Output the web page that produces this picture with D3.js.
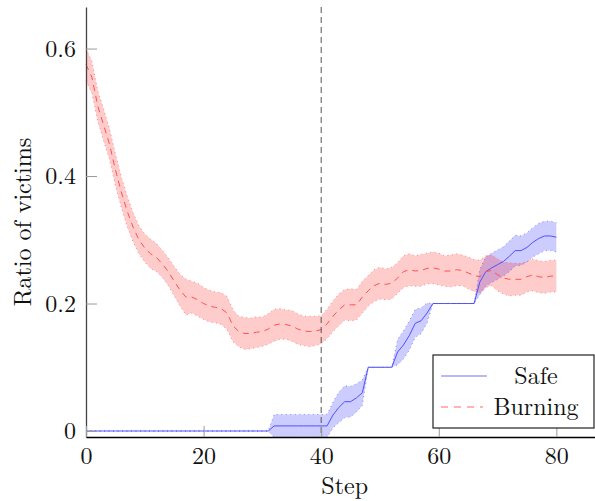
<!DOCTYPE html>
<html>
<head>
<meta charset="utf-8">
<script src="https://cdn.jsdelivr.net/npm/d3@7"></script>
<style>
  body { margin: 0; background: #fff; }
</style>
</head>
<body>
<script>
// step index 0..80
var steps = d3.range(0, 81);

var safeMean = [
	0, 0, 0, 0, 0, 0, 0, 0, 0, 0,
	0, 0, 0, 0, 0, 0, 0, 0, 0, 0,
	0, 0, 0, 0, 0, 0, 0, 0, 0, 0,
	0, 0, 0.008, 0.008, 0.008, 0.008, 0.008, 0.008, 0.008, 0.008,
	0.008, 0.008, 0.025, 0.037, 0.046, 0.046, 0.052, 0.06, 0.1, 0.1,
	0.1, 0.1, 0.1, 0.124, 0.135, 0.15, 0.169, 0.173, 0.185, 0.2,
	0.2, 0.2, 0.2, 0.2, 0.2, 0.2, 0.2, 0.234, 0.25, 0.256,
	0.261, 0.266, 0.274, 0.283, 0.283, 0.288, 0.296, 0.302, 0.306, 0.306,
	0.304
];
var safeStd = [
	0, 0, 0, 0, 0, 0, 0, 0, 0, 0,
	0, 0, 0, 0, 0, 0, 0, 0, 0, 0,
	0, 0, 0, 0, 0, 0, 0, 0, 0, 0,
	0, 0, 0.018, 0.018, 0.018, 0.018, 0.018, 0.018, 0.018, 0.018,
	0.018, 0.018, 0.02, 0.024, 0.025, 0.024, 0.022, 0.02, 0, 0,
	0, 0, 0, 0.02, 0.022, 0.023, 0.022, 0.02, 0.016, 0,
	0, 0, 0, 0, 0, 0, 0, 0.02, 0.023, 0.023,
	0.023, 0.023, 0.024, 0.024, 0.023, 0.023, 0.023, 0.024, 0.023, 0.023,
	0.023
];
var burningMean = [
	0.575, 0.555, 0.51, 0.48, 0.45, 0.41, 0.375, 0.345, 0.32, 0.3,
	0.287, 0.278, 0.272, 0.262, 0.25, 0.235, 0.221, 0.21, 0.21, 0.206,
	0.2, 0.196, 0.194, 0.192, 0.185, 0.165, 0.156, 0.153, 0.153, 0.155,
	0.156, 0.16, 0.166, 0.168, 0.167, 0.165, 0.16, 0.157, 0.156, 0.157,
	0.159, 0.168, 0.18, 0.19, 0.198, 0.198, 0.198, 0.21, 0.22, 0.228,
	0.232, 0.23, 0.232, 0.24, 0.25, 0.253, 0.251, 0.252, 0.255, 0.256,
	0.254, 0.251, 0.251, 0.253, 0.252, 0.248, 0.244, 0.242, 0.25, 0.252,
	0.245, 0.24, 0.238, 0.238, 0.238, 0.242, 0.245, 0.242, 0.241, 0.243,
	0.243
];
var burningStd = [
	0.025, 0.025, 0.024, 0.025, 0.024, 0.025, 0.024, 0.024, 0.023, 0.022,
	0.022, 0.023, 0.022, 0.021, 0.022, 0.023, 0.025, 0.028, 0.025, 0.026,
	0.025, 0.025, 0.024, 0.025, 0.026, 0.025, 0.024, 0.025, 0.024, 0.024,
	0.023, 0.024, 0.025, 0.024, 0.023, 0.024, 0.024, 0.023, 0.024, 0.023,
	0.022, 0.023, 0.024, 0.025, 0.024, 0.025, 0.024, 0.025, 0.024, 0.025,
	0.025, 0.024, 0.025, 0.024, 0.025, 0.025, 0.024, 0.025, 0.024, 0.025,
	0.025, 0.024, 0.025, 0.025, 0.024, 0.025, 0.025, 0.026, 0.025, 0.024,
	0.025, 0.025, 0.026, 0.025, 0.025, 0.024, 0.025, 0.025, 0.025, 0.025,
	0.025
];

var xTicks = [0, 20, 40, 60, 80];
var yTicks = [0, 0.2, 0.4, 0.6];
var yTickLabels = ["0", "0.2", "0.4", "0.6"];
var legendLabels = ["Safe", "Burning"];
var markerStep = 40;

var width = 595;
var height = 501;
var font = "'Latin Modern Roman', 'Liberation Serif', serif";

var x = d3.scaleLinear().domain([0, 88]).range([86, 603.4]);
var y = d3.scaleLinear().domain([-0.0094, 0.6652]).range([437, 7]);

var svg = d3.select("body").append("svg")
	.attr("width", width)
	.attr("height", height);

var series = [
	{mean: safeMean, std: safeStd, line: "#5050ff", fill: "#0000ff", edge: "#6060ff", dash: null},
	{mean: burningMean, std: burningStd, line: "#ff5050", fill: "#ff0000", edge: "#ff6060", dash: "6,5"}
];

// bands
series.forEach(function(s) {
	var area = d3.area()
		.x(function(d) { return x(d); })
		.y0(function(d, i) { return y(s.mean[i] - s.std[i]); })
		.y1(function(d, i) { return y(s.mean[i] + s.std[i]); });
	svg.append("path")
		.attr("d", area(steps))
		.attr("fill", s.fill)
		.attr("fill-opacity", 0.2);
	[1, -1].forEach(function(sign) {
		var edge = d3.line()
			.x(function(d) { return x(d); })
			.y(function(d, i) { return y(s.mean[i] + sign * s.std[i]); });
		svg.append("path")
			.attr("d", edge(steps))
			.attr("fill", "none")
			.attr("stroke", s.edge)
			.attr("stroke-width", 0.9)
			.attr("stroke-dasharray", "1,3.5")
			.attr("stroke-opacity", 0.8);
	});
});

// mean lines
series.forEach(function(s) {
	var line = d3.line()
		.x(function(d) { return x(d); })
		.y(function(d, i) { return y(s.mean[i]); });
	svg.append("path")
		.attr("d", line(steps))
		.attr("fill", "none")
		.attr("stroke", s.line)
		.attr("stroke-width", 1)
		.attr("stroke-dasharray", s.dash);
});

// vertical marker
svg.append("line")
	.attr("x1", x(markerStep)).attr("x2", x(markerStep))
	.attr("y1", y.range()[1]).attr("y2", y.range()[0])
	.attr("stroke", "#555")
	.attr("stroke-width", 1)
	.attr("stroke-dasharray", "6,4");

// axes
var yAxis = svg.append("g")
	.attr("transform", "translate(" + x(0) + ",0)")
	.call(d3.axisLeft(y)
		.tickValues(yTicks)
		.tickSizeInner(-11)
		.tickSizeOuter(0)
		.tickPadding(10)
		.tickFormat(function(d, i) { return yTickLabels[i]; }));
yAxis.select(".domain").attr("stroke", "#444").attr("stroke-width", 1.3);
yAxis.selectAll(".tick line").attr("stroke", "#999");
yAxis.selectAll(".tick text")
	.style("font-size", "24px")
	.style("font-family", font)
	.attr("fill", "#111");

var xAxis = svg.append("g")
	.attr("transform", "translate(0," + y.range()[0] + ")")
	.call(d3.axisBottom(x)
		.tickValues(xTicks)
		.tickSizeInner(-11)
		.tickSizeOuter(0)
		.tickPadding(10)
		.tickFormat(d3.format("d")));
xAxis.select(".domain").attr("stroke", "#000").attr("stroke-width", 1.3);
xAxis.selectAll(".tick line").attr("stroke", "#999");
xAxis.selectAll(".tick text")
	.style("font-size", "24px")
	.style("font-family", font)
	.attr("fill", "#111");

// axis titles
svg.append("text")
	.attr("x", (x.range()[0] + x.range()[1]) / 2)
	.attr("y", 494)
	.attr("text-anchor", "middle")
	.style("font-size", "24px")
	.style("font-family", font)
	.attr("fill", "#111")
	.text("Step");

svg.append("text")
	.attr("transform", "translate(31," + ((y.range()[0] + y.range()[1]) / 2) + ") rotate(-90)")
	.attr("text-anchor", "middle")
	.style("font-size", "24px")
	.style("font-family", font)
	.attr("fill", "#111")
	.text("Ratio of victims");

// legend
var legend = svg.append("g").attr("transform", "translate(433,355)");
legend.append("rect")
	.attr("width", 161).attr("height", 73)
	.attr("fill", "#fff")
	.attr("stroke", "#222")
	.attr("stroke-width", 1.2);
legend.append("line")
	.attr("x1", 8).attr("x2", 54).attr("y1", 21).attr("y2", 21)
	.attr("stroke", "#a0a0ff").attr("stroke-width", 1.5);
legend.append("line")
	.attr("x1", 8).attr("x2", 50).attr("y1", 52).attr("y2", 52)
	.attr("stroke", "#ff9a9a").attr("stroke-width", 1.3)
	.attr("stroke-dasharray", "7,6");
legend.selectAll("text.lab")
	.data(legendLabels)
	.enter()
	.append("text")
	.attr("class", "lab")
	.attr("x", 103)
	.attr("y", function(d, i) { return 29 + i * 31; })
	.attr("text-anchor", "middle")
	.style("font-size", "24px")
	.style("font-family", font)
	.attr("fill", "#111")
	.text(function(d) { return d; });
</script>
</body>
</html>
